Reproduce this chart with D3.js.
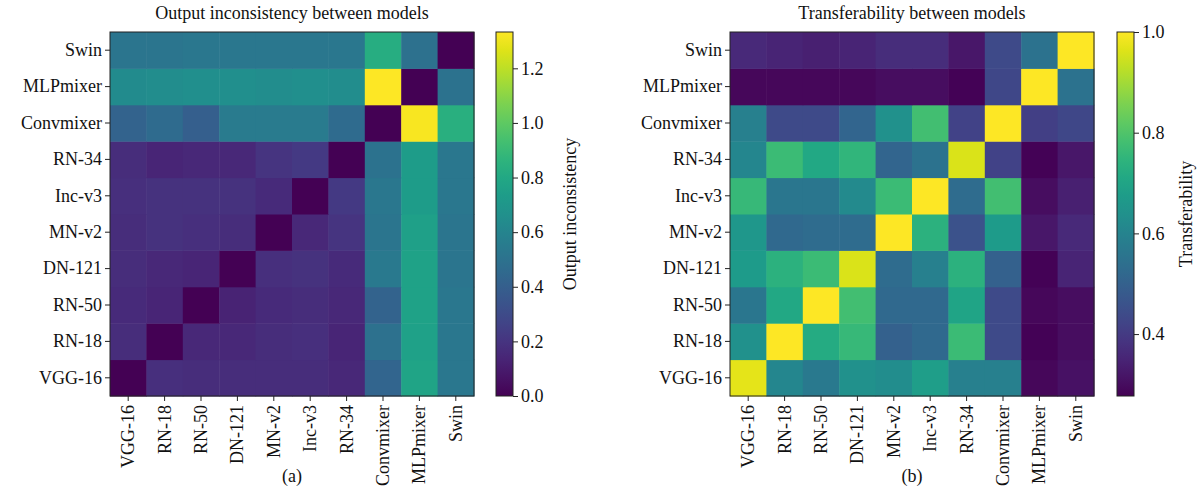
<!DOCTYPE html>
<html>
<head>
<meta charset="utf-8">
<script src="https://cdn.jsdelivr.net/npm/d3@7"></script>
<style>
  body { margin: 0; background: #fff; }
  svg { display: block; font-family: "Liberation Serif", "Times New Roman", serif; }
</style>
</head>
<body>
<div id="chart"></div>
<script>
// model names, in matrix order (row 0 drawn at the bottom)
const models = ['VGG-16', 'RN-18', 'RN-50', 'DN-121', 'MN-v2', 'Inc-v3', 'RN-34', 'Convmixer', 'MLPmixer', 'Swin'];

// output inconsistency, rows = models (bottom to top), cols = models
const inconsistency = [
  [0.00, 0.18, 0.17, 0.17, 0.17, 0.17, 0.15, 0.43, 0.78, 0.53],
  [0.17, 0.00, 0.15, 0.15, 0.17, 0.18, 0.14, 0.49, 0.76, 0.53],
  [0.16, 0.14, 0.00, 0.13, 0.16, 0.17, 0.15, 0.42, 0.77, 0.53],
  [0.17, 0.15, 0.14, 0.00, 0.18, 0.19, 0.16, 0.54, 0.77, 0.52],
  [0.17, 0.19, 0.18, 0.17, 0.00, 0.15, 0.20, 0.52, 0.75, 0.52],
  [0.18, 0.19, 0.19, 0.19, 0.16, 0.00, 0.22, 0.53, 0.73, 0.53],
  [0.17, 0.14, 0.15, 0.15, 0.20, 0.22, 0.00, 0.50, 0.73, 0.53],
  [0.42, 0.46, 0.40, 0.55, 0.55, 0.55, 0.46, 0.00, 1.32, 0.84],
  [0.64, 0.65, 0.66, 0.66, 0.65, 0.66, 0.65, 1.33, 0.00, 0.50],
  [0.52, 0.52, 0.53, 0.53, 0.53, 0.53, 0.53, 0.83, 0.49, 0.00]
];

// transferability, same layout
const transferability = [
  [0.97, 0.61, 0.57, 0.64, 0.63, 0.68, 0.59, 0.59, 0.29, 0.31],
  [0.64, 1.00, 0.72, 0.76, 0.50, 0.52, 0.77, 0.44, 0.28, 0.30],
  [0.56, 0.71, 1.00, 0.78, 0.52, 0.52, 0.70, 0.44, 0.29, 0.30],
  [0.67, 0.74, 0.77, 0.96, 0.53, 0.59, 0.74, 0.50, 0.28, 0.35],
  [0.66, 0.52, 0.53, 0.53, 1.00, 0.74, 0.46, 0.67, 0.32, 0.36],
  [0.76, 0.56, 0.56, 0.62, 0.77, 1.00, 0.53, 0.78, 0.30, 0.34],
  [0.61, 0.77, 0.71, 0.75, 0.51, 0.55, 0.96, 0.42, 0.28, 0.32],
  [0.59, 0.44, 0.44, 0.51, 0.64, 0.78, 0.42, 1.00, 0.41, 0.43],
  [0.29, 0.29, 0.29, 0.29, 0.30, 0.30, 0.28, 0.43, 1.00, 0.55],
  [0.36, 0.35, 0.34, 0.35, 0.37, 0.37, 0.32, 0.44, 0.55, 1.00]
];

const inconsistencyTicks = [0, 0.2, 0.4, 0.6, 0.8, 1.0, 1.2];
const transferTicks = [0.4, 0.6, 0.8, 1.0];

const panels = [
  { title: 'Output inconsistency between models', cbLabel: 'Output inconsistency', tag: '(a)',
    data: inconsistency, domain: [0, 1.333], ticks: inconsistencyTicks, left: 110, cbLeft: 496, labelOff: 57 },
  { title: 'Transferability between models', cbLabel: 'Transferability', tag: '(b)',
    data: transferability, domain: [0.277, 1.0], ticks: transferTicks, left: 730, cbLeft: 1117, labelOff: 52 }
];

const W = 1199, H = 492;
const plotTop = 32, size = 364, cbW = 17, tickLen = 5, fs = 18;
const serif = '"Liberation Serif", "Times New Roman", serif';

const svg = d3.select('#chart').append('svg')
  .attr('width', W).attr('height', H);

const defs = svg.append('defs');

function styleAxis(sel) {
  sel.attr('font-family', serif).attr('font-size', fs);
  sel.select('.domain').remove();
  sel.selectAll('line').attr('stroke', '#222');
  sel.selectAll('text').attr('fill', '#111');
}

panels.forEach((p, pi) => {
  const x = d3.scaleBand().domain(models).range([p.left, p.left + size]);
  const y = d3.scaleBand().domain(models).range([plotTop + size, plotTop]);
  const color = d3.scaleSequential(d3.interpolateViridis).domain(p.domain);

  const g = svg.append('g');

  // cells
  const cells = [];
  p.data.forEach((row, ri) => row.forEach((v, ci) => cells.push({ r: models[ri], c: models[ci], v })));
  g.selectAll('rect.cell')
    .data(cells)
    .join('rect')
      .attr('class', 'cell')
      .attr('x', d => x(d.c))
      .attr('y', d => y(d.r))
      .attr('width', x.bandwidth() + 0.5)
      .attr('height', y.bandwidth() + 0.5)
      .attr('fill', d => color(d.v));

  // frame
  g.append('rect')
    .attr('x', p.left).attr('y', plotTop).attr('width', size).attr('height', size)
    .attr('fill', 'none').attr('stroke', '#222').attr('stroke-width', 1);

  // y axis
  g.append('g')
    .attr('transform', `translate(${p.left},0)`)
    .call(d3.axisLeft(y).tickSize(tickLen).tickPadding(3))
    .call(styleAxis);

  // x axis, rotated labels
  const xAxis = g.append('g')
    .attr('transform', `translate(0,${plotTop + size})`)
    .call(d3.axisBottom(x).tickSize(tickLen).tickPadding(3))
    .call(styleAxis);
  xAxis.selectAll('text')
    .attr('text-anchor', 'end')
    .attr('transform', 'rotate(-90)')
    .attr('x', -(tickLen + 4)).attr('y', 0).attr('dy', '0.33em');

  // title and tag
  g.append('text')
    .attr('x', p.left + size / 2).attr('y', 19)
    .attr('text-anchor', 'middle').attr('font-size', fs).attr('fill', '#111')
    .text(p.title);
  g.append('text')
    .attr('x', p.left + size / 2).attr('y', 482)
    .attr('text-anchor', 'middle').attr('font-size', fs).attr('fill', '#111')
    .text(p.tag);

  // colorbar
  const gradId = 'cb-grad-' + pi;
  const grad = defs.append('linearGradient').attr('id', gradId)
    .attr('x1', '0%').attr('x2', '0%').attr('y1', '100%').attr('y2', '0%');
  d3.range(0, 1.0001, 0.05).forEach(t => {
    grad.append('stop').attr('offset', (t * 100) + '%').attr('stop-color', d3.interpolateViridis(t));
  });
  g.append('rect')
    .attr('x', p.cbLeft).attr('y', plotTop).attr('width', cbW).attr('height', size)
    .attr('fill', `url(#${gradId})`).attr('stroke', '#222').attr('stroke-width', 1);

  const cbScale = d3.scaleLinear().domain(p.domain).range([plotTop + size, plotTop]);
  g.append('g')
    .attr('transform', `translate(${p.cbLeft + cbW},0)`)
    .call(d3.axisRight(cbScale).tickValues(p.ticks).tickFormat(d3.format('.1f')).tickSize(tickLen).tickPadding(3))
    .call(styleAxis);

  g.append('text')
    .attr('transform', `translate(${p.cbLeft + cbW + p.labelOff},${plotTop + size / 2}) rotate(-90)`)
    .attr('text-anchor', 'middle').attr('dy', '0.35em')
    .attr('font-size', fs).attr('fill', '#111')
    .text(p.cbLabel);
});
</script>
</body>
</html>
